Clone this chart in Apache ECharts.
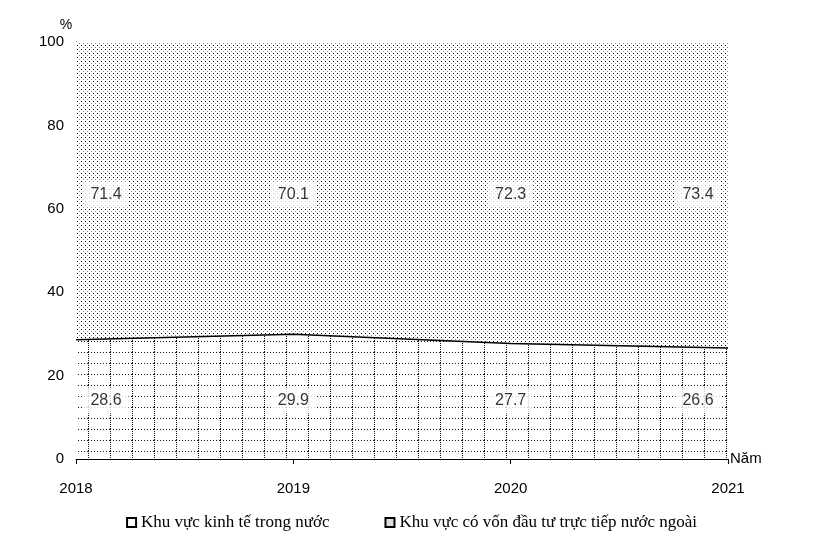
<!DOCTYPE html><html><head><meta charset="utf-8"><script src="https://cdn.jsdelivr.net/npm/echarts@6/dist/echarts.min.js"></script></head><body style="margin:0"><div id="c" style="width:823px;height:542px"></div><script>
const years=['2018','2019','2020','2021'];
const domestic=[28.6,29.9,27.7,26.6];
const foreign=[71.4,70.1,72.3,73.4];
const legendNames=['Khu vực kinh tế trong nước','Khu vực có vốn đầu tư trực tiếp nước ngoài'];
function pat(kind){const c=document.createElement('canvas');const x=c.getContext('2d');
if(kind==='dots'){c.width=4;c.height=4;x.fillStyle='#fff';x.fillRect(0,0,4,4);x.fillStyle='#000';x.fillRect(1,1,1,1);x.fillStyle='#888';x.fillRect(3,3,1,1);}
else{c.width=22;c.height=11;x.fillStyle='#fff';x.fillRect(0,0,22,11);x.fillStyle='#111';for(let i=0;i<22;i+=3)x.fillRect(i,0,1,1);for(let j=0;j<11;j+=2)x.fillRect(0,j,1,1);}
return {image:c,repeat:'repeat'};}
const offs=[30,0,0,-30];
const lbl={show:true,position:'inside',backgroundColor:'#fff',padding:[5,7],fontFamily:'Arial',fontSize:16,color:'#000'};
const c=echarts.init(document.getElementById('c'));
c.setOption({animation:false,
grid:{left:76,right:95,top:42,bottom:83},
legend:{bottom:6,left:'center',itemGap:55,icon:'rect',itemWidth:9,itemHeight:9,textStyle:{fontFamily:'Liberation Serif',fontSize:17,color:'#000'},data:legendNames},
xAxis:{type:'category',data:years,boundaryGap:false,name:'Năm',nameGap:2,nameTextStyle:{fontFamily:'Arial',fontSize:15,color:'#000',padding:[58,0,0,0]},axisLine:{lineStyle:{color:'#000'}},axisTick:{lineStyle:{color:'#000'},length:5},axisLabel:{fontFamily:'Arial',fontSize:15,color:'#000',margin:22}},
yAxis:{type:'value',min:0,max:100,interval:20,name:'%',nameGap:10,nameTextStyle:{fontFamily:'Arial',fontSize:14,color:'#000',padding:[0,20,0,0]},axisLine:{show:true,lineStyle:{color:'#000'}},axisTick:{show:false},splitLine:{show:false},axisLabel:{fontFamily:'Arial',fontSize:15,color:'#000',margin:12}},
series:[
{name:legendNames[0],type:'line',stack:'a',data:domestic,symbol:'none',lineStyle:{color:'#000',width:1.5},areaStyle:{color:pat('grid'),opacity:1},itemStyle:{color:'#fff',borderColor:'#000',borderWidth:1},z:3},
{name:legendNames[1],type:'line',stack:'a',data:foreign,symbol:'none',lineStyle:{width:0},areaStyle:{color:pat('dots'),opacity:1},itemStyle:{color:'#ddd',borderColor:'#000',borderWidth:1},z:2},
{type:'scatter',symbolSize:0,silent:true,z:10,data:domestic.map((v,i)=>({value:[i,14],label:{offset:[offs[i],0],formatter:String(v)}})),label:lbl},
{type:'scatter',symbolSize:0,silent:true,z:10,data:foreign.map((v,i)=>({value:[i,63.5],label:{offset:[offs[i],0],formatter:String(v)}})),label:lbl}
]});
</script></body></html>
